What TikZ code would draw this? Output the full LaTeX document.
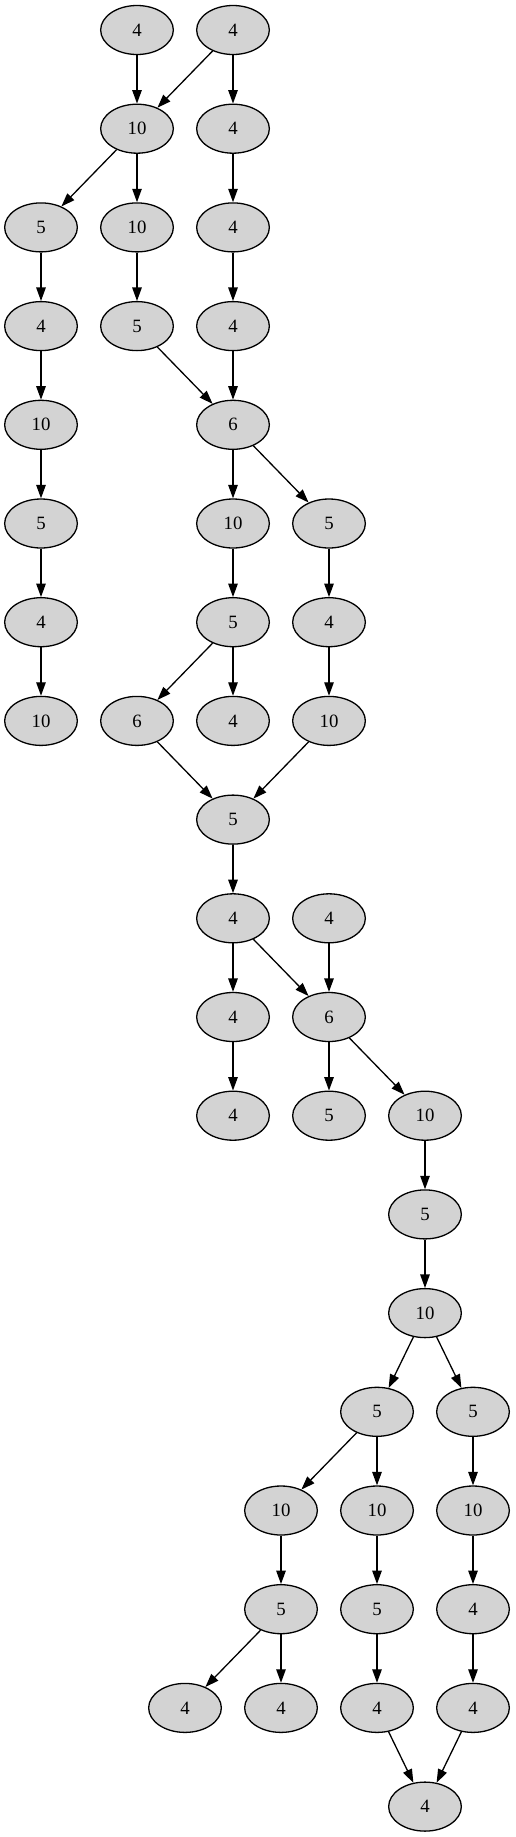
\documentclass[tikz,border=0pt]{standalone}
\usepackage{fontspec}
\setmainfont{Liberation Serif}
\usetikzlibrary{shapes.geometric,arrows.meta}
\begin{document}
\begin{tikzpicture}[x=1pt,y=-1pt,
  nd/.style={ellipse,draw=black,fill={rgb,255:red,211;green,211;blue,211},line width=1.3pt,
    minimum width=72.7pt,minimum height=49pt,inner sep=0pt,font=\fontsize{18.8}{22}\selectfont},
  ed/.style={line width=1.3pt,-{Triangle[length=13.5pt,width=9.5pt]}}]
\useasboundingbox (0,0) rectangle (515,1837);
% row 0
\node[nd] (A1) at (137,30) {4};
\node[nd] (A2) at (233,30) {4};
% row 1
\node[nd] (B1) at (137,128.7) {10};
\node[nd] (B2) at (233,128.7) {4};
% row 2
\node[nd] (C1) at (41,227.4) {5};
\node[nd] (C2) at (137,227.4) {10};
\node[nd] (C3) at (233,227.4) {4};
% row 3
\node[nd] (D1) at (41,326.1) {4};
\node[nd] (D2) at (137,326.1) {5};
\node[nd] (D3) at (233,326.1) {4};
% row 4
\node[nd] (E1) at (41,424.8) {10};
\node[nd] (E2) at (233,424.8) {6};
% row 5
\node[nd] (F1) at (41,523.5) {5};
\node[nd] (F2) at (233,523.5) {10};
\node[nd] (F3) at (329,523.5) {5};
% row 6
\node[nd] (G1) at (41,622.2) {4};
\node[nd] (G2) at (233,622.2) {5};
\node[nd] (G3) at (329,622.2) {4};
% row 7
\node[nd] (H1) at (41,720.9) {10};
\node[nd] (H2) at (137,720.9) {6};
\node[nd] (H3) at (233,720.9) {4};
\node[nd] (H4) at (329,720.9) {10};
% row 8
\node[nd] (I1) at (233,819.6) {5};
% row 9
\node[nd] (J1) at (233,918.3) {4};
\node[nd] (J2) at (329,918.3) {4};
% row 10
\node[nd] (K1) at (233,1017) {4};
\node[nd] (K2) at (329,1017) {6};
% row 11
\node[nd] (L1) at (233,1115.7) {4};
\node[nd] (L2) at (329,1115.7) {5};
\node[nd] (L3) at (425,1115.7) {10};
% row 12
\node[nd] (M1) at (425,1214.4) {5};
% row 13
\node[nd] (N1) at (425,1313.1) {10};
% row 14
\node[nd] (O1) at (377,1411.8) {5};
\node[nd] (O2) at (473,1411.8) {5};
% row 15
\node[nd] (P1) at (281,1510.5) {10};
\node[nd] (P2) at (377,1510.5) {10};
\node[nd] (P3) at (473,1510.5) {10};
% row 16
\node[nd] (Q1) at (281,1609.2) {5};
\node[nd] (Q2) at (377,1609.2) {5};
\node[nd] (Q3) at (473,1609.2) {4};
% row 17
\node[nd] (R1) at (185,1707.9) {4};
\node[nd] (R2) at (281,1707.9) {4};
\node[nd] (R3) at (377,1707.9) {4};
\node[nd] (R4) at (473,1707.9) {4};
% row 18
\node[nd] (S1) at (425,1806.6) {4};
% edges
\foreach \a/\b in {A1/B1,A2/B1,A2/B2,B1/C1,B1/C2,B2/C3,C1/D1,C2/D2,C3/D3,
  D1/E1,D2/E2,D3/E2,E1/F1,E2/F2,E2/F3,F1/G1,F2/G2,F3/G3,G1/H1,G2/H2,G2/H3,G3/H4,
  H2/I1,H4/I1,I1/J1,J1/K1,J1/K2,J2/K2,K1/L1,K2/L2,K2/L3,L3/M1,M1/N1,N1/O1,N1/O2,
  O1/P1,O1/P2,O2/P3,P1/Q1,P2/Q2,P3/Q3,Q1/R1,Q1/R2,Q2/R3,Q3/R4,R3/S1,R4/S1}
  \draw[ed] (\a) -- (\b);
\end{tikzpicture}
\end{document}
